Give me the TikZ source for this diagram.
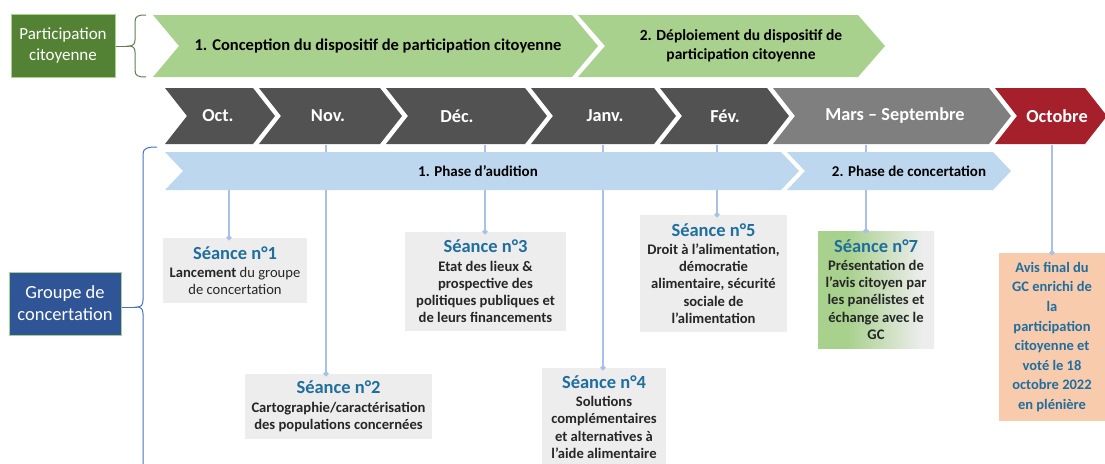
\documentclass[tikz,border=0pt]{standalone}
\usepackage{fontspec}
\setmainfont{Carlito}
\usetikzlibrary{arrows.meta}
\definecolor{gLight}{HTML}{A9D18E}
\definecolor{gDark}{HTML}{548235}
\definecolor{grayD}{HTML}{525252}
\definecolor{grayM}{HTML}{7F7F7F}
\definecolor{redD}{HTML}{A5202A}
\definecolor{blueL}{HTML}{BDD7EE}
\definecolor{boxG}{HTML}{EDEDED}
\definecolor{peach}{HTML}{F8CBAD}
\definecolor{headB}{HTML}{1F6E9E}
\definecolor{navy}{HTML}{2F5597}
\definecolor{connC}{HTML}{A9C1E6}
\definecolor{braceB}{HTML}{4472C4}
\definecolor{braceG}{HTML}{5E7F4C}
\definecolor{bodyC}{HTML}{262626}
\pgfdeclarehorizontalshading{sevenshade}{100bp}{color(0bp)=(gLight); color(38bp)=(gLight); color(70bp)=(boxG); color(100bp)=(boxG)}
\newcommand\chevshape[6]{\fill[#6] (#1,#3) -- (#2,#3) -- ({#2+#5},{(#3+#4)/2}) -- (#2,#4) -- (#1,#4) -- ({#1+#5},{(#3+#4)/2}) -- cycle;}
\newcommand\hd[1]{{\fontsize{18.5}{20}\selectfont\bfseries\color{headB}#1}}
\begin{document}
\begin{tikzpicture}[x=1pt,y=-1pt,
  box/.style={fill=boxG, inner sep=0pt, align=center, text=bodyC, font=\fontsize{14.6}{17.3}\selectfont\bfseries},
  monthtxt/.style={text=white, font=\fontsize{18.3}{20}\selectfont\bfseries, inner sep=0pt},
  greentxt/.style={text=black, font=\fontsize{15.5}{18.5}\selectfont\bfseries, align=center, inner sep=0pt},
  bluetxt/.style={text=black, font=\fontsize{15}{17}\selectfont\bfseries, inner sep=0pt},
  conn/.style={draw=connC, line width=1.6pt, -{Circle[length=5pt,width=5pt]}, shorten >=-2.5pt},
  sidebox/.style={draw=gLight, line width=1pt, text=white, align=center, inner sep=0pt}]
\useasboundingbox (0,0) rectangle (1105,463);
\clip (0,0) rectangle (1105,463);

% left labels
\node[sidebox, fill=gDark, minimum width=104pt, minimum height=63pt, font=\fontsize{17}{21.5}\selectfont] (pc) at (63,45.5) {Participation\\citoyenne};
\node[sidebox, fill=navy, minimum width=112pt, minimum height=63pt, font=\fontsize{18.5}{22}\selectfont] (gc) at (65,303.5) {Groupe de\\concertation};

% braces
\coordinate (b1tip) at (129,46);
\draw[braceG, line width=1pt] (146,15) .. controls (138,15) and (135,16) .. (135,22) -- (135,40) .. controls (135,44) and (133,46) .. (b1tip) .. controls (133,46) and (135,48) .. (135,52) -- (135,70) .. controls (135,76) and (138,77) .. (146,77);
\draw[braceG, line width=1pt] (pc.east |- b1tip) -- (b1tip);
\coordinate (b2tip) at (137,307);
\draw[braceB, line width=1pt] (157,147) .. controls (148,147) and (143,148) .. (143,154) -- (143,300) .. controls (143,305) and (141,307) .. (b2tip) .. controls (141,307) and (143,309) .. (143,314) -- (143,470);
\draw[braceB, line width=1pt] (gc.east |- b2tip) -- (b2tip);

% session boxes
\node[box, font=\fontsize{14.6}{17.3}\selectfont, minimum width=144pt, minimum height=65pt] (s1) at (235,270.5) {\hd{Séance n°1}\\[1pt]\textbf{Lancement} du groupe\\de concertation};
\node[box, minimum width=187pt, minimum height=65pt] (s2) at (338.5,406.5) {\hd{Séance n°2}\\[1pt]Cartographie/caractérisation\\des populations concernées};
\node[box, minimum width=161pt, minimum height=99pt] (s3) at (485.5,281.5) {\hd{Séance n°3}\\[1pt]Etat des lieux \&\\prospective des\\politiques publiques et\\de leurs financements};
\node[box, minimum width=124pt, minimum height=98pt] (s4) at (604,417) {\hd{Séance n°4}\\[1pt]Solutions\\complémentaires\\et alternatives à\\l’aide alimentaire};
\node[box, minimum width=147pt, minimum height=117pt] (s5) at (713.5,273.5) {\hd{Séance n°5}\\[1pt]Droit à l’alimentation,\\démocratie\\alimentaire, sécurité\\sociale de\\l’alimentation};
\node[box, shading=sevenshade, minimum width=116pt, minimum height=117pt] (s7) at (876,289.5) {\hd{Séance n°7}\\[1pt]Présentation de\\l’avis citoyen par\\les panélistes et\\échange avec le\\GC};
\node[box, fill=peach, text=headB, font=\fontsize{14.5}{19.6}\selectfont\bfseries, minimum width=106pt, minimum height=168pt] (avis) at (1052,337) {Avis final du\\GC enrichi de\\la\\participation\\citoyenne et\\voté le 18\\octobre 2022\\en plénière};

% connectors
\coordinate (t1) at (229,190);
\coordinate (t2) at (326,145);
\coordinate (t3) at (485,145);
\coordinate (t4) at (603,145);
\coordinate (t5) at (717,145);
\coordinate (t7) at (866,145);
\coordinate (t8) at (1052,145);
\draw[conn] (t1) -- (s1.north -| t1);
\draw[conn] (t2) -- (s2.north -| t2);
\draw[conn] (t3) -- (s3.north -| t3);
\draw[conn] (t4) -- (s4.north -| t4);
\draw[conn] (t5) -- (s5.north -| t5);
\draw[conn] (t7) -- (s7.north -| t7);
\draw[conn] (t8) -- (avis.north -| t8);

% green row
\chevshape{153}{572}{15}{77}{26}{gLight}
\chevshape{578}{858}{15}{77}{27}{gLight}
\node[greentxt, font=\fontsize{16.5}{18.5}\selectfont\bfseries] (g1) at (378,46) {1. Conception du dispositif de participation citoyenne};
\node[greentxt] (g2) at (741,46) {2. Déploiement du dispositif de\\participation citoyenne};

% month row
\chevshape{165}{253}{88}{144}{22}{grayD}
\chevshape{259}{380}{88}{144}{22}{grayD}
\chevshape{386}{525}{88}{144}{22}{grayD}
\chevshape{531}{654}{88}{144}{22}{grayD}
\chevshape{660}{767}{88}{144}{22}{grayD}
\chevshape{773}{989}{88}{144}{22}{grayM}
\chevshape{995}{1085}{88}{144}{22}{redD}
\node[monthtxt] (m1) at (218,116) {Oct.};
\node[monthtxt] (m2) at (328,116) {Nov.};
\node[monthtxt] (m3) at (457,116) {Déc.};
\node[monthtxt] (m4) at (605,116) {Janv.};
\node[monthtxt] (m5) at (725,116) {Fév.};
\node[monthtxt] (m6) at (895,116) {Mars – Septembre};
\node[monthtxt] (m7) at (1057,116) {Octobre};

% phase row
\chevshape{165}{781}{152}{190}{18}{blueL}
\chevshape{787}{993}{152}{190}{18}{blueL}
\node[bluetxt] (p1) at (478,171) {1. Phase d’audition};
\node[bluetxt] (p2) at (909,171) {2. Phase de concertation};
\end{tikzpicture}
\end{document}
